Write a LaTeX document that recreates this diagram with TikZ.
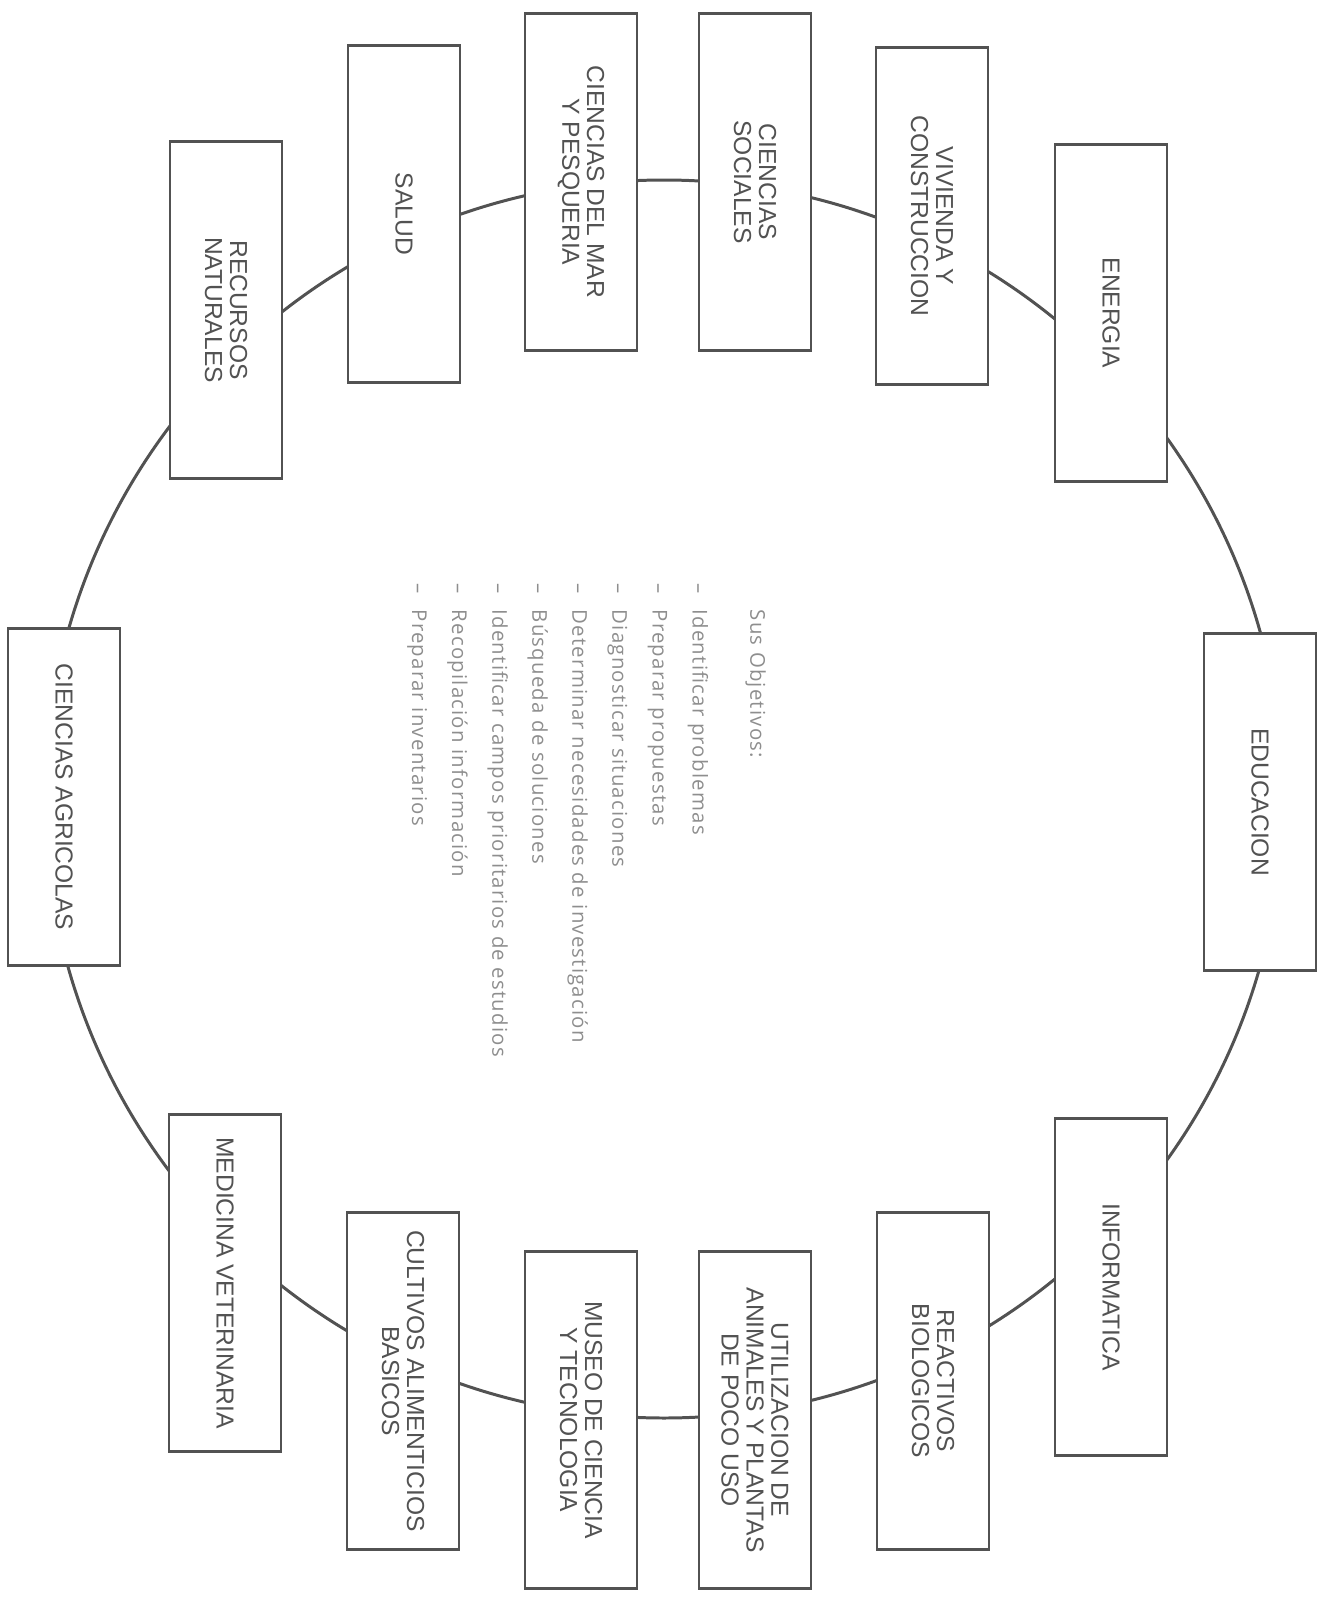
\documentclass[tikz,border=0pt]{standalone}
\usepackage{fontspec}
\setmainfont{Liberation Sans}
\newfontfamily\listfont[LetterSpace=6]{Open Sans}
\usetikzlibrary{backgrounds}
\definecolor{inkgray}{HTML}{525252}
\definecolor{listgray}{HTML}{8E8E8E}

\begin{document}
\begin{tikzpicture}[x=0.1mm, y=-0.1mm,
    area/.style={draw=inkgray, fill=white, line width=0.7pt, rotate=-90, inner sep=0pt,
      minimum width=33.7mm, minimum height=11.2mm, align=center, text=inkgray,
      font=\fontsize{7}{7.1}\selectfont},
    ring/.style={draw=inkgray, line width=0.85pt}]
  \useasboundingbox (0,0) rectangle (1326,1598);
  % upper half
  \node [area] (energia)   at (1111,313) {ENERGIA};
  \node [area] (vivienda)  at (932,216)  {VIVIENDA Y\\CONSTRUCCION};
  \node [area] (sociales)  at (755,182)  {CIENCIAS\\SOCIALES};
  \node [area] (mar)       at (581,182)  {CIENCIAS DEL MAR\\Y PESQUERIA};
  \node [area] (salud)     at (404,214)  {SALUD};
  \node [area] (recursos)  at (226,310)  {RECURSOS\\NATURALES};
  \node [area] (agricolas) at (64,797)   {CIENCIAS AGRICOLAS};
  % lower half
  \node [area] (veterinaria) at (225,1283) {MEDICINA VETERINARIA};
  \node [area] (cultivos)    at (403,1381) {CULTIVOS ALIMENTICIOS\\BASICOS};
  \node [area] (museo)       at (581,1420) {MUSEO DE CIENCIA\\Y TECNOLOGIA};
  \node [area] (utilizacion) at (755,1420) {UTILIZACION DE\\ANIMALES Y PLANTAS\\DE POCO USO};
  \node [area] (reactivos)   at (933,1381) {REACTIVOS\\BIOLOGICOS};
  \node [area] (informatica) at (1111,1287) {INFORMATICA};
  \node [area] (educacion)   at (1260,802) {EDUCACION};

  \node [rotate=-90, anchor=north west, inner sep=0pt, text=listgray,
    font=\listfont\fontsize{5.8}{11.4}\selectfont] (objetivos) at (779,583) {%
    \begin{tabular}{@{}l@{\hspace{4.5pt}}l@{}}
      & Sus Objetivos:\\[5pt]
      – & Identificar problemas\\
      – & Preparar propuestas\\
      – & Diagnosticar situaciones\\
      – & Determinar necesidades de investigación\\
      – & Búsqueda de soluciones\\
      – & Identificar campos prioritarios de estudios\\
      – & Recopilación información\\
      – & Preparar inventarios
    \end{tabular}};

  \begin{pgfonlayer}{background}
    \draw [ring] (664,799) circle [radius=61.9mm];
  \end{pgfonlayer}
\end{tikzpicture}
\end{document}
